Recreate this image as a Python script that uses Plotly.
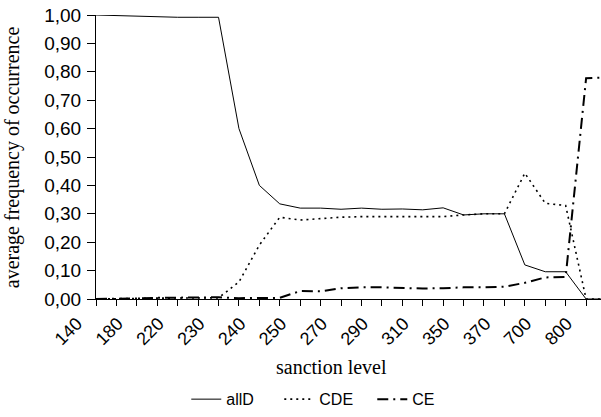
import plotly.graph_objects as go

categories = ["140", "160", "180", "200", "220", "225", "230", "235", "240", "245",
              "250", "260", "270", "280", "290", "300", "310", "330", "350", "360",
              "370", "500", "700", "750", "800", "900"]
shown_labels = ["140", "180", "220", "230", "240", "250", "270", "290", "310",
                "350", "370", "700", "800"]

allD = [1.00, 0.998, 0.995, 0.992, 0.992, 0.992, 0.992, 0.60, 0.40, 0.335,
        0.32, 0.32, 0.316, 0.32, 0.316, 0.317, 0.314, 0.321, 0.296, 0.30,
        0.30, 0.12, 0.096, 0.096, 0.0, 0.0]
CDE = [0.0, 0.0, 0.002, 0.003, 0.003, 0.003, 0.004, 0.06, 0.19, 0.288,
       0.278, 0.283, 0.288, 0.29, 0.29, 0.29, 0.29, 0.29, 0.296, 0.30,
       0.30, 0.443, 0.337, 0.329, 0.0, 0.0]
CE = [0.0, 0.0, 0.002, 0.004, 0.004, 0.005, 0.006, 0.003, 0.003, 0.004,
      0.028, 0.027, 0.038, 0.041, 0.041, 0.038, 0.037, 0.038, 0.041, 0.041,
      0.043, 0.057, 0.076, 0.078, 0.777, 0.78]

y_ticks = [i / 10 for i in range(11)]

fig = go.Figure()
fig.add_trace(go.Scatter(x=categories, y=allD, name="allD", mode="lines",
                         line=dict(color="black", width=1)))
fig.add_trace(go.Scatter(x=categories, y=CDE, name="CDE", mode="lines",
                         line=dict(color="black", width=1.6, dash="2px,4px")))
fig.add_trace(go.Scatter(x=categories, y=CE, name="CE", mode="lines",
                         line=dict(color="black", width=2, dash="11px,5px,2px,5px")))

ticktext = [c if c in shown_labels else "" for c in categories]

fig.update_layout(
    width=601, height=417,
    margin=dict(l=96, r=0, t=15, b=118, autoexpand=False),
    paper_bgcolor="white", plot_bgcolor="white",
    separators=",.",
    showlegend=True,
    legend=dict(orientation="h", x=0.455, xanchor="center", y=-0.353, yanchor="middle",
                font=dict(family="Liberation Sans", size=16, color="black"),
                itemwidth=30, tracegroupgap=0, entrywidth=48),
    xaxis=dict(
        type="category", range=[0, 24.73], automargin=False,
        tickmode="array", tickvals=categories, ticktext=ticktext,
        tickangle=-45, ticks="outside", ticklen=6, tickcolor="black",
        ticklabelshift=-19, ticklabelstandoff=0,
        tickfont=dict(family="Liberation Sans", size=18, color="black"),
        showline=True, linecolor="black", linewidth=1,
        showgrid=False, zeroline=False,
    ),
    yaxis=dict(
        range=[0, 1.0], tickvals=y_ticks, tickformat=".2f", automargin=False,
        ticks="outside", ticklen=8, tickcolor="black", ticklabelstandoff=2,
        tickfont=dict(family="Liberation Sans", size=19, color="black"),
        showline=True, linecolor="black", linewidth=1,
        showgrid=False, zeroline=False,
    ),
    annotations=[
        dict(text="sanction level", xref="paper", yref="paper", x=0.467, y=-0.24,
             xanchor="center", yanchor="middle", showarrow=False,
             font=dict(family="Liberation Serif", size=20, color="black")),
        dict(text="average frequency of occurrence", xref="paper", yref="paper",
             x=-0.166, y=0.5, xanchor="center", yanchor="middle", textangle=-90,
             showarrow=False,
             font=dict(family="Liberation Serif", size=20, color="black")),
    ],
)

fig.write_html("out.html", config={"displayModeBar": False},
               post_script="document.body.style.margin='0';document.body.style.overflow='hidden';")
